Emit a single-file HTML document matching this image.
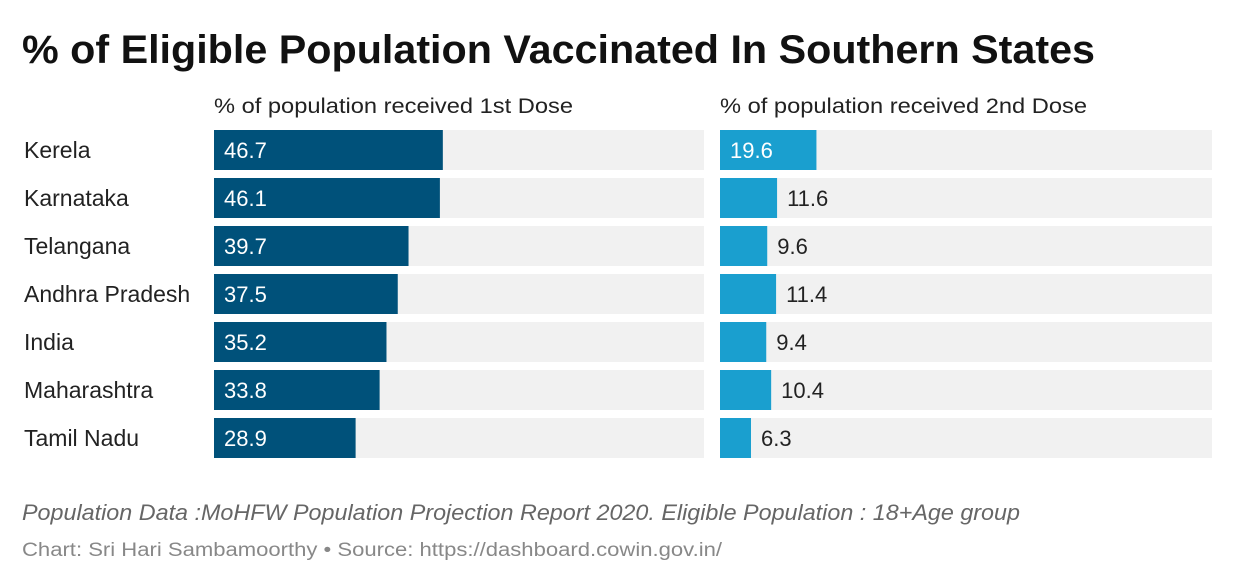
<!DOCTYPE html>
<html><head><meta charset="utf-8">
<style>
body{margin:0;background:#fff;font-family:"Liberation Sans",sans-serif;}
#wrap{position:relative;width:1244px;height:584px;overflow:hidden;}
</style></head>
<body>
<div id="wrap">
<svg id="chart" width="1244" height="584">
<text x="22" y="63" font-size="40" font-weight="bold" fill="#111" textLength="1073" lengthAdjust="spacingAndGlyphs">% of Eligible Population Vaccinated In Southern States</text>
<text x="214" y="113" font-size="21" fill="#222" textLength="359" lengthAdjust="spacingAndGlyphs">% of population received 1st Dose</text>
<text x="720" y="113" font-size="21" fill="#222" textLength="367" lengthAdjust="spacingAndGlyphs">% of population received 2nd Dose</text>
<text x="22" y="520" font-size="22" font-style="italic" fill="#666" textLength="998" lengthAdjust="spacingAndGlyphs">Population Data :MoHFW Population Projection Report 2020. Eligible Population : 18+Age group</text>
<text x="22" y="556" font-size="19" fill="#888" textLength="700" lengthAdjust="spacingAndGlyphs">Chart: Sri Hari Sambamoorthy • Source: https://dashboard.cowin.gov.in/</text>
<g id="bars"></g>
</svg>
</div>
<script>
const categories=["Kerela","Karnataka","Telangana","Andhra Pradesh","India","Maharashtra","Tamil Nadu"];
const dose1=[46.7,46.1,39.7,37.5,35.2,33.8,28.9];
const dose2=[19.6,11.6,9.6,11.4,9.4,10.4,6.3];
const maxVal=100;
const g=document.getElementById('bars');
const NS="http://www.w3.org/2000/svg";
function mk(tag,attrs){const e=document.createElementNS(NS,tag);for(const k in attrs)e.setAttribute(k,attrs[k]);g.appendChild(e);return e;}
const rowY=i=>130+i*48;
const panels=[{x0:214,w:490,vals:dose1,color:"#00517a",name:"dose1"},{x0:720,w:492,vals:dose2,color:"#1a9fcf",name:"dose2"}];
categories.forEach((c,i)=>{
  const t=mk('text',{x:24,y:rowY(i)+28,'font-size':23,fill:'#222'});
  t.textContent=c;
  
  
});
panels.forEach(p=>{
  const sx=v=>v/maxVal*p.w;
  p.vals.forEach((v,i)=>{
    const y=rowY(i);
    const bg=mk('rect',{x:p.x0,y:y,width:p.w,height:40,fill:'#f1f1f1'});
    
    
    const b=mk('rect',{x:p.x0,y:y,width:sx(v),height:40,fill:p.color});
    
    
    const inside=v>15;
    const l=mk('text',{x:inside?p.x0+10:p.x0+sx(v)+10,y:y+28,'font-size':22,fill:inside?'#fff':'#222'});
    l.textContent=v.toFixed(1);
    
    
  });
});
</script>
</body></html>
